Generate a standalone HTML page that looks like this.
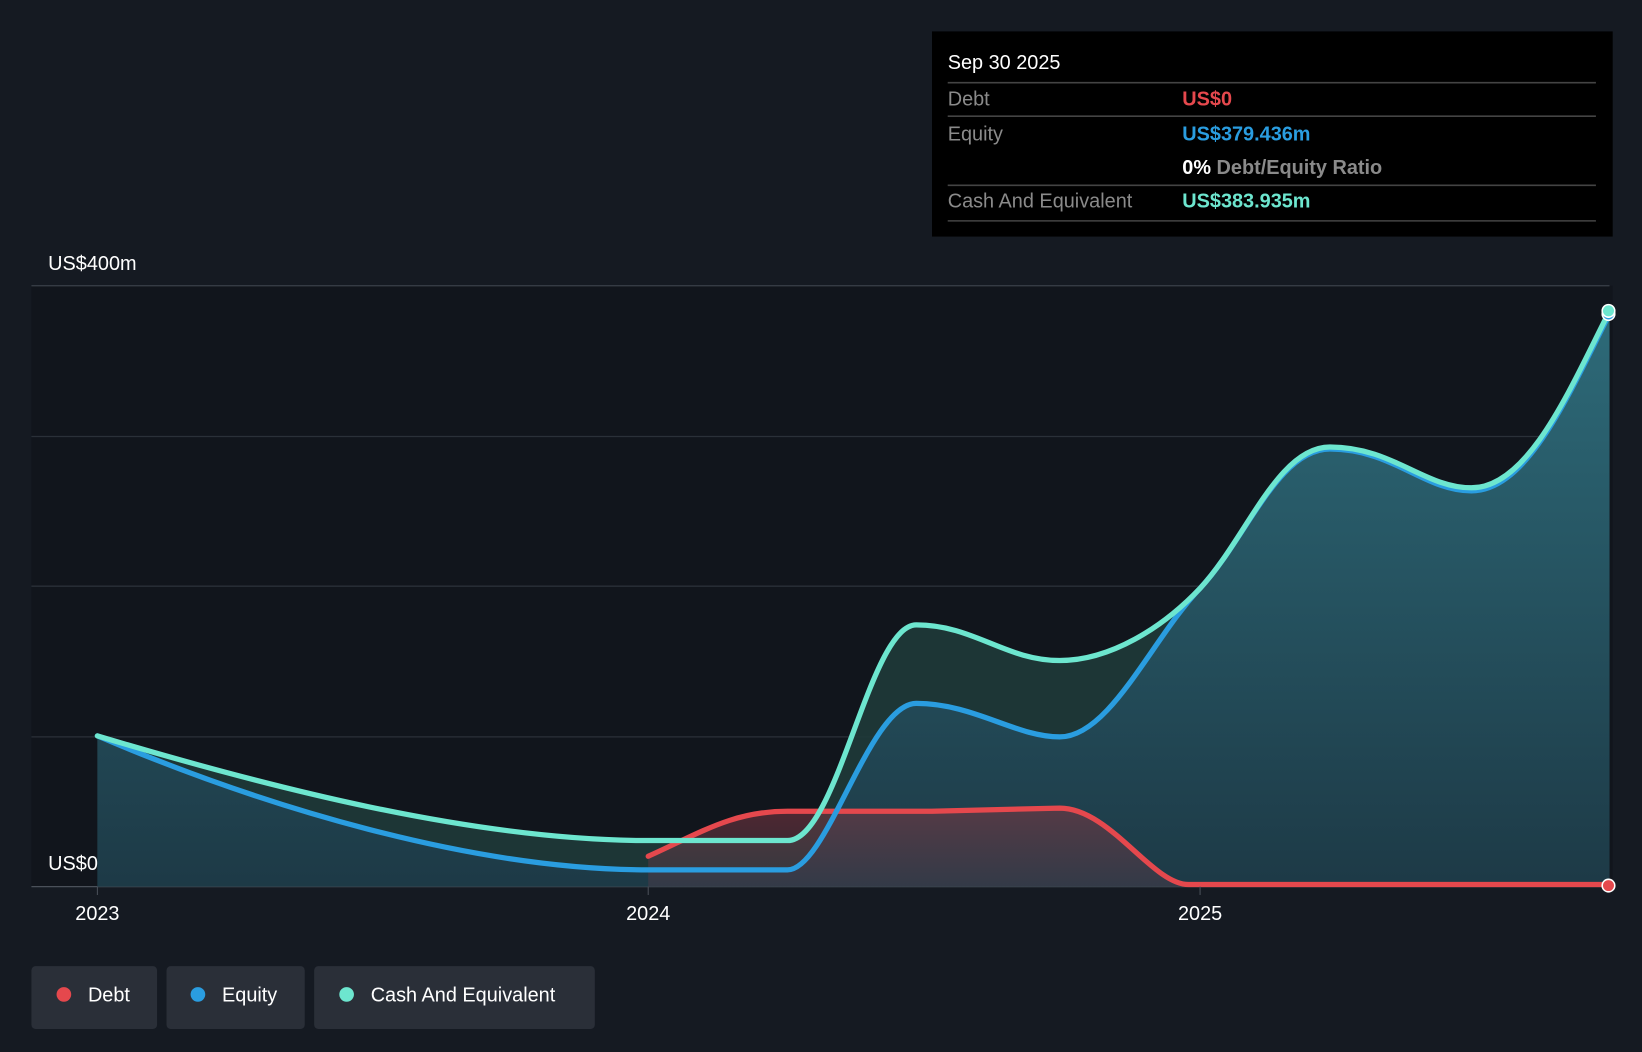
<!DOCTYPE html>
<html><head><meta charset="utf-8"><style>
html,body{margin:0;padding:0;background:#151a22;}
svg{display:block;}
text{font-family:"Liberation Sans",sans-serif;}
</style></head><body>
<svg width="1642" height="1052" viewBox="0 0 1568 1005" preserveAspectRatio="none" xmlns="http://www.w3.org/2000/svg">
<defs>
<linearGradient id="bg" x1="0" y1="0" x2="0" y2="1"><stop offset="0" stop-color="#151a22"/><stop offset="1" stop-color="#11151c"/></linearGradient>
<linearGradient id="eq" x1="0" y1="0" x2="0" y2="1"><stop offset="0" stop-color="#2f7080" stop-opacity="0.9"/><stop offset="1" stop-color="#1d3a48" stop-opacity="0.9"/></linearGradient>
<linearGradient id="db" x1="0" y1="0" x2="0" y2="1"><stop offset="0" stop-color="#7a3540" stop-opacity="0.6"/><stop offset="1" stop-color="#4a3a48" stop-opacity="0.5"/></linearGradient>
</defs>
<rect width="1568" height="1005" fill="#151a22"/>
<rect x="30" y="273" width="1510" height="574" fill="#11151c"/>
<g stroke="#3a4049" stroke-width="1.2">
<line x1="30" y1="273" x2="1537" y2="273"/>
<line x1="30" y1="417" x2="1537" y2="417" stroke="#2a3038"/>
<line x1="30" y1="560" x2="1537" y2="560" stroke="#2a3038"/>
<line x1="30" y1="704" x2="1537" y2="704" stroke="#2a3038"/>
<line x1="30" y1="847" x2="1537" y2="847" stroke="#4a5059"/>
</g>
<!-- cash fill -->
<path d="M93,703 C250,750 450,803 619,803 L752,803 C800,803 830,597 875,597 C930,597 960,631 1012,631 C1060,631 1110,600 1146,562 C1190,515 1220,427 1270,427 C1330,427 1360,466 1405,466 C1460,466 1500,370 1537,297 L1537,847 L93,847 Z" fill="#1f3a3a" opacity="0.9"/>
<!-- equity fill -->
<path d="M93,703 C250,770 450,831 619,831 L752,831 C790,831 830,672 875,672 C930,672 970,704 1012,704 C1060,704 1100,610 1146,562 C1190,515 1220,429 1270,429 C1330,429 1360,469 1405,469 C1460,469 1500,372 1537,300 L1537,847 L93,847 Z" fill="url(#eq)"/>
<!-- debt fill -->
<path d="M619,818 C670,795 700,775 752,775 L890,775 L1012,772 C1060,772 1100,845 1135,845 L1135,847 L619,847 Z" fill="url(#db)"/>
<path d="M619,818 C670,795 700,775 752,775 L890,775 L1012,772 C1060,772 1100,845 1135,845 L1537,845" fill="none" stroke="#e5484d" stroke-width="5" stroke-linecap="round"/>
<path d="M93,703 C250,770 450,831 619,831 L752,831 C790,831 830,672 875,672 C930,672 970,704 1012,704 C1060,704 1100,610 1146,562 C1190,515 1220,429 1270,429 C1330,429 1360,469 1405,469 C1460,469 1500,372 1537,300" fill="none" stroke="#2a9de0" stroke-width="5" stroke-linecap="round"/>
<path d="M93,703 C250,750 450,803 619,803 L752,803 C800,803 830,597 875,597 C930,597 960,631 1012,631 C1060,631 1110,600 1146,562 C1190,515 1220,427 1270,427 C1330,427 1360,466 1405,466 C1460,466 1500,370 1537,297" fill="none" stroke="#6de6cf" stroke-width="5" stroke-linecap="round"/>
<circle cx="1536" cy="846" r="6" fill="#e5484d" stroke="#fff" stroke-width="1.5"/>
<circle cx="1536" cy="300" r="6" fill="#2a9de0" stroke="#fff" stroke-width="1.5"/>
<circle cx="1536" cy="297" r="6" fill="#6de6cf" stroke="#fff" stroke-width="1.5"/>
<text x="46" y="258" fill="#fff" font-size="19">US$400m</text>
<text x="46" y="831" fill="#fff" font-size="19">US$0</text>
<g stroke="#4a5059"><line x1="93" y1="847" x2="93" y2="855"/><line x1="619" y1="847" x2="619" y2="855"/><line x1="1146" y1="847" x2="1146" y2="855"/></g>
<g fill="#fff" font-size="19" text-anchor="middle">
<text x="93" y="879">2023</text><text x="619" y="879">2024</text><text x="1146" y="879">2025</text>
</g>
<rect x="890" y="30" width="650" height="196" fill="#000"/>
<text x="905" y="66" fill="#fff" font-size="19">Sep 30 2025</text>
<g stroke="#444" stroke-width="1.5">
<line x1="905" y1="79" x2="1524" y2="79"/><line x1="905" y1="111" x2="1524" y2="111"/>
<line x1="905" y1="177" x2="1524" y2="177"/><line x1="905" y1="211" x2="1524" y2="211"/>
</g>
<g font-size="19">
<text x="905" y="101" fill="#8a8a8a">Debt</text><text x="1129" y="101" fill="#e5484d" font-weight="bold">US$0</text>
<text x="905" y="134" fill="#8a8a8a">Equity</text><text x="1129" y="134" fill="#2a9de0" font-weight="bold">US$379.436m</text>
<text x="1129" y="166" fill="#fff" font-weight="bold">0%<tspan fill="#8a8a8a"> Debt/Equity Ratio</tspan></text>
<text x="905" y="198" fill="#8a8a8a">Cash And Equivalent</text><text x="1129" y="198" fill="#6de6cf" font-weight="bold">US$383.935m</text>
</g>
<g font-size="19" fill="#fff">
<rect x="30" y="923" width="120" height="60" rx="4" fill="#2a2f38"/>
<circle cx="61" cy="950" r="7" fill="#e5484d"/><text x="84" y="957">Debt</text>
<rect x="159" y="923" width="132" height="60" rx="4" fill="#2a2f38"/>
<circle cx="189" cy="950" r="7" fill="#2a9de0"/><text x="212" y="957">Equity</text>
<rect x="300" y="923" width="268" height="60" rx="4" fill="#2a2f38"/>
<circle cx="331" cy="950" r="7" fill="#6de6cf"/><text x="354" y="957">Cash And Equivalent</text>
</g>
</svg>
</body></html>
